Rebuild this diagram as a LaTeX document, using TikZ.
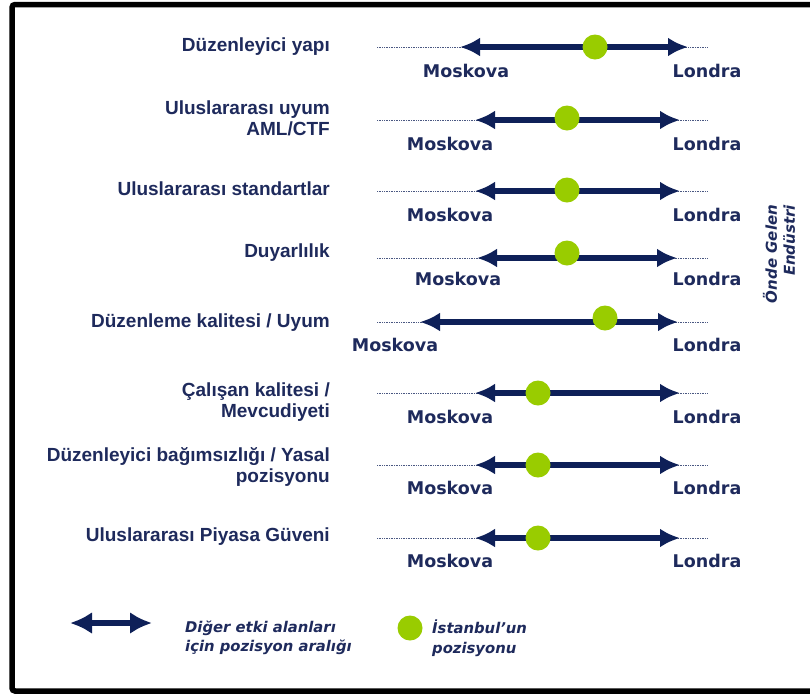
\documentclass[tikz,border=0pt]{standalone}
\usepackage{fontspec}
\setmainfont{Liberation Sans}
\newfontfamily\verd{DejaVu Sans}
\usetikzlibrary{arrows.meta}
\definecolor{navy}{RGB}{14,32,88}
\definecolor{labnavy}{RGB}{30,42,92}
\definecolor{dotgreen}{RGB}{153,204,0}
\tikzset{
  scaleline/.style={draw=navy!75, line width=1pt, dash pattern=on 1pt off 0.7pt},
  rangearrow/.style={draw=navy, line width=5.5pt,
    {Latex[length=20pt,width=19pt]}-{Latex[length=20pt,width=19pt]}},
  legarrow/.style={draw=navy, line width=6.5pt,
    {Latex[length=22pt,width=22pt]}-{Latex[length=22pt,width=22pt]}},
  posdot/.style={circle, fill=dotgreen, minimum size=25pt, inner sep=0pt},
  city/.style={font=\verd\bfseries\fontsize{17.5}{20}\selectfont, text=labnavy, inner sep=0pt},
  rowlabel/.style={font=\bfseries\fontsize{19}{21}\selectfont, text=labnavy, align=right, anchor=east, inner sep=0pt},
  legtext/.style={font=\verd\bfseries\itshape\fontsize{14.8}{19.5}\selectfont, text=labnavy, align=left, anchor=west, inner sep=0pt}
}
\begin{document}
\begin{tikzpicture}[x=1pt,y=-1pt]
\useasboundingbox (0,0) rectangle (810,697);
\clip (0,0) rectangle (810,697);
\fill[white] (0,0) rectangle (810,697);
\draw[line width=5.5pt, rounded corners=3pt] (12,4.5) rectangle (840,691);

% rows
\foreach \i/\ay/\lt/\rt/\dx/\dy/\mx/\ly in {
  1/47/460/688/595/47/466/71,
  2/120/475/680/567/118/450/144,
  3/191/475/680/567/190/450/215,
  4/258/477/677/567/253/458/279,
  5/322/420/678/605/318/395/345,
  6/393/475/680/538/393/450/417,
  7/465/475/680/538/465/450/488,
  8/538/475/680/538/538/450/561}{
  \coordinate (s\i) at (377,\ay);
  \coordinate (e\i) at (707,\ay);
  \coordinate (a\i) at (\lt,\ay);
  \coordinate (b\i) at (\rt,\ay);
  \draw[scaleline] (s\i) -- (e\i);
  \draw[rangearrow] (a\i) -- (b\i);
  \node[posdot] (d\i) at (\dx,\dy) {};
  \node[city] (m\i) at (\mx,\ly) {Moskova};
  \node[city] (l\i) at (707,\ly) {Londra};
}

\node[rowlabel] (t1) at (330,47) {Düzenleyici yapı};
\node[rowlabel] (t2) at (330,118) {Uluslararası uyum\\AML/CTF};
\node[rowlabel] (t3) at (330,189) {Uluslararası standartlar};
\node[rowlabel] (t4) at (330,253) {Duyarlılık};
\node[rowlabel] (t5) at (330,323) {Düzenleme kalitesi / Uyum};
\node[rowlabel] (t6) at (330,402) {Çalışan kalitesi /\\Mevcudiyeti};
\node[rowlabel] (t7) at (330,467) {Düzenleyici bağımsızlığı / Yasal\\pozisyonu};
\node[rowlabel] (t8) at (330,537) {Uluslararası Piyasa Güveni};

% side label
\node[font=\verd\bfseries\itshape\fontsize{15}{18}\selectfont, text=labnavy, align=right, rotate=90, inner sep=0pt] (side) at (779,254) {Önde Gelen\\Endüstri};

% legend
\coordinate (la) at (70,623);
\coordinate (lb) at (152,623);
\draw[legarrow] (la) -- (lb);
\node[legtext] (lt1) at (185,638) {Diğer etki alanları\\için pozisyon aralığı};
\node[posdot] (ld) at (410,628) {};
\node[legtext] (lt2) at (432,638) {İstanbul’un\\pozisyonu};
\end{tikzpicture}
\end{document}
